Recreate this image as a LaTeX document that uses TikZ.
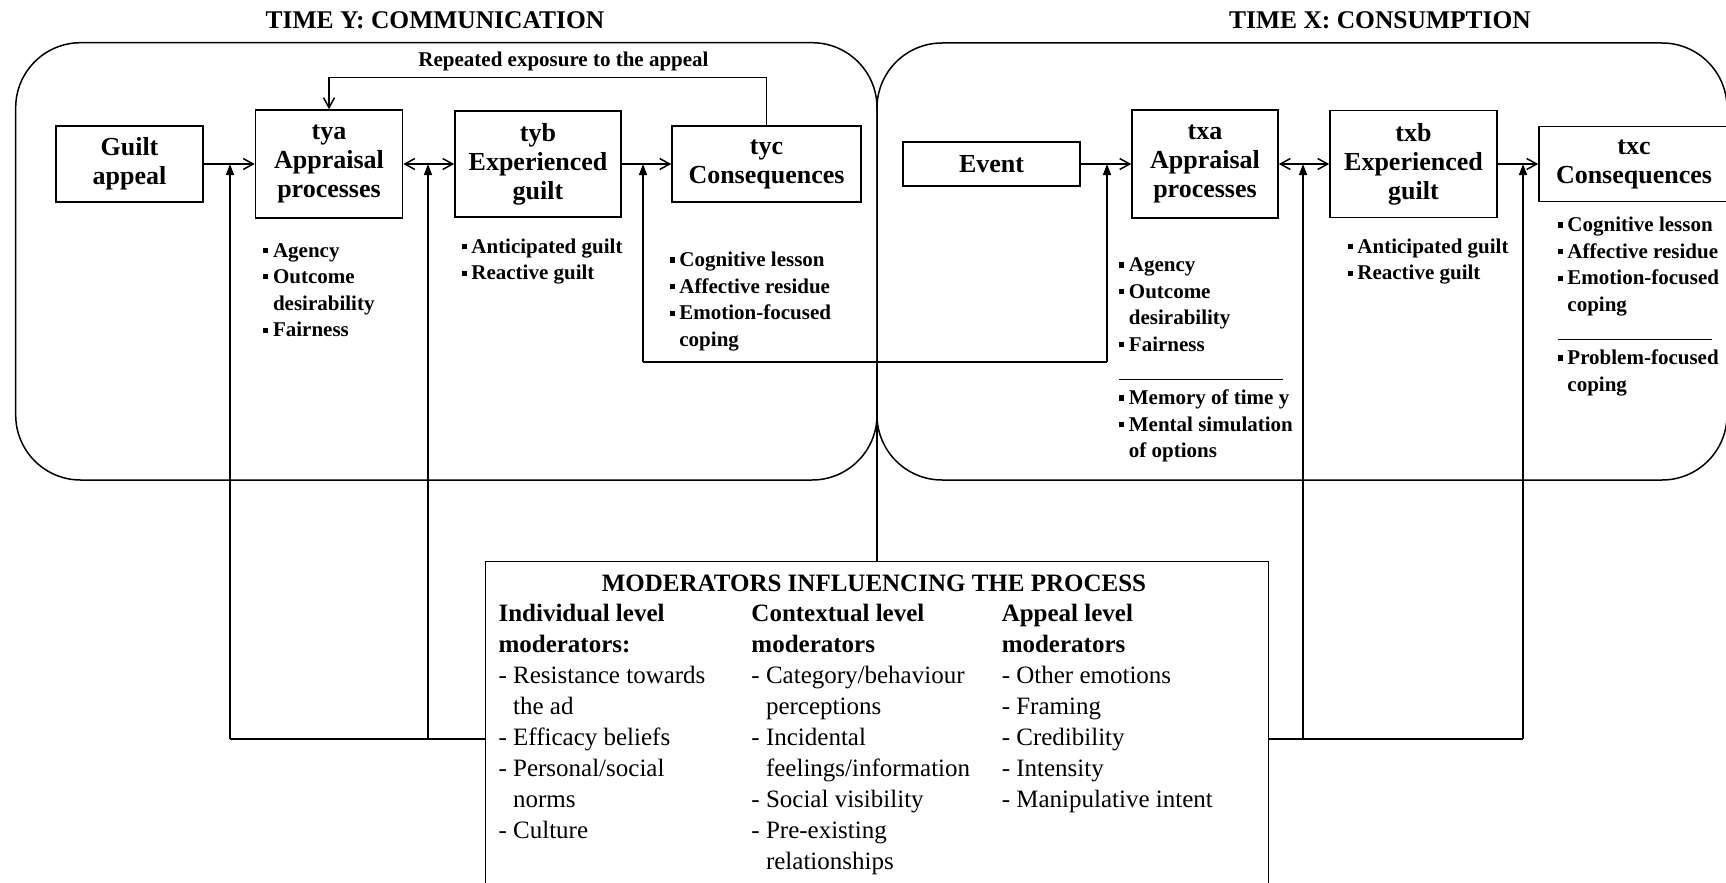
\documentclass[tikz,border=0pt]{standalone}
\usepackage{fontspec}
\setmainfont{Liberation Serif}
\usetikzlibrary{arrows.meta}
% small square bullet used in the lists
\newcommand\sqbul{\rule[0.2em]{0.24em}{0.24em}\hspace{0.22em}}
\newcommand\sqgap{\hphantom{\rule{0.24em}{0.24em}\hspace{0.22em}}}
\newcommand\dsh{-\ }
\newcommand\dgap{\hphantom{-\ }}
\begin{document}
\begin{tikzpicture}[x=1pt,y=-1pt,line width=1.5pt,
  >={Straight Barb[length=10pt,width=11pt]},
  box/.style={draw,line width=1.6pt,inner sep=0pt,align=center,
    font={\fontsize{26}{29}\selectfont\bfseries}},
  stage/.style={draw,line width=1.5pt,rounded corners=65pt},
  flow/.style={->},
  both/.style={<->},
  infl/.style={-{Triangle[length=11pt,width=8pt]}},
  lst/.style={inner sep=0pt,anchor=base west},
  heading/.style={inner sep=0pt,anchor=base,font={\fontsize{25.5}{30}\selectfont\bfseries}},
]
\useasboundingbox (0,0) rectangle (1726,883);

% the two time frames
\draw[stage] (15.7,42.7) rectangle (877,480);
\draw[stage] (877,43) rectangle (1727,480);

\node[heading] (ttly) at (435,28.3) {TIME Y: COMMUNICATION};
\node[heading] (ttlx) at (1380,28.3) {TIME X: CONSUMPTION};

% process boxes, time y
\node[box,minimum width=147pt,minimum height=76pt] (ga) at (129.5,164) {Guilt\\appeal};
\node[box,minimum width=147pt,minimum height=108pt] (tya) at (329,164) {tya\\Appraisal\\processes};
\node[box,minimum width=166pt,minimum height=106pt] (tyb) at (538,164) {tyb\\Experienced\\guilt};
\node[box,minimum width=189pt,minimum height=76pt] (tyc) at (766.5,164) {tyc\\Consequences};

% process boxes, time x
\node[box,minimum width=177pt,minimum height=44pt] (ev) at (991.5,164) {Event};
\node[box,minimum width=146pt,minimum height=108pt] (txa) at (1205,164) {txa\\Appraisal\\processes};
\node[box,minimum width=167pt,minimum height=107pt] (txb) at (1413.5,164) {txb\\Experienced\\guilt};
\node[box,minimum width=190pt,minimum height=75pt] (txc) at (1634,164) {txc\\Consequences};

% main flow
\draw[flow] (ga.east) -- (tya.west);
\draw[both] (tya.east) -- (tyb.west);
\draw[flow] (tyb.east) -- (tyc.west);
\draw[flow] (ev.east) -- (txa.west);
\draw[both] (txa.east) -- (txb.west);
\draw[flow] (txb.east) -- (txc.west);

% feedback loop
\coordinate (fb) at (0,77.3);
\draw[flow] (tyc.north) -- (tyc.north |- fb) -| (tya.north);
\node[inner sep=0pt,anchor=base,font={\fontsize{21}{25}\selectfont\bfseries}] (fbl) at (563.5,66.7) {Repeated exposure to the appeal};

% bullet lists
\node[lst] (lya) at (262.6,257) {\parbox[t]{200pt}{\fontsize{21}{26.6}\selectfont\bfseries
  \sqbul Agency\\ \sqbul Outcome\\ \sqgap desirability\\ \sqbul Fairness}};
\node[lst] (lyb) at (461,253.3) {\parbox[t]{200pt}{\fontsize{21}{26.6}\selectfont\bfseries
  \sqbul Anticipated guilt\\ \sqbul Reactive guilt}};
\node[lst] (lyc) at (669,266.7) {\parbox[t]{200pt}{\fontsize{21}{26.6}\selectfont\bfseries
  \sqbul Cognitive lesson\\ \sqbul Affective residue\\ \sqbul Emotion-focused\\ \sqgap coping}};
\node[lst] (lxa) at (1118.5,271.7) {\parbox[t]{200pt}{\fontsize{21}{26.6}\selectfont\bfseries
  \sqbul Agency\\ \sqbul Outcome\\ \sqgap desirability\\ \sqbul Fairness\\
  \rule[-2pt]{164pt}{1.2pt}\\ \sqbul Memory of time y\\ \sqbul Mental simulation\\ \sqgap of options}};
\node[lst] (lxb) at (1347,253.3) {\parbox[t]{200pt}{\fontsize{21}{26.6}\selectfont\bfseries
  \sqbul Anticipated guilt\\ \sqbul Reactive guilt}};
\node[lst] (lxc) at (1557,231.7) {\parbox[t]{200pt}{\fontsize{21}{26.6}\selectfont\bfseries
  \sqbul Cognitive lesson\\ \sqbul Affective residue\\ \sqbul Emotion-focused\\ \sqgap coping\\
  \rule[-2pt]{154pt}{1.2pt}\\ \sqbul Problem-focused\\ \sqgap coping}};

% moderators
\node[draw,line width=1.6pt,inner sep=0pt,minimum width=783pt,minimum height=345pt,anchor=north] (mod) at (877,560.7) {};
\node[heading,font={\fontsize{25}{30}\selectfont\bfseries}] (modt) at (874,591.7) {MODERATORS INFLUENCING THE PROCESS};
\node[lst] (m1) at (497.8,621.7) {\parbox[t]{250pt}{\fontsize{25}{31}\selectfont
  \textbf{Individual level}\\ \textbf{moderators:}\\ \dsh Resistance towards\\ \dgap the ad\\
  \dsh Efficacy beliefs\\ \dsh Personal/social\\ \dgap norms\\ \dsh Culture}};
\node[lst] (m2) at (750.7,621.7) {\parbox[t]{250pt}{\fontsize{25}{31}\selectfont
  \textbf{Contextual level}\\ \textbf{moderators}\\ \dsh Category/behaviour\\ \dgap perceptions\\
  \dsh Incidental\\ \dgap feelings/information\\ \dsh Social visibility\\ \dsh Pre-existing\\ \dgap relationships}};
\node[lst] (m3) at (1001,621.7) {\parbox[t]{250pt}{\fontsize{25}{31}\selectfont
  \textbf{Appeal level}\\ \textbf{moderators}\\ \dsh Other emotions\\ \dsh Framing\\
  \dsh Credibility\\ \dsh Intensity\\ \dsh Manipulative intent}};

% influence of the moderators
\coordinate (jl) at (230,739);
\coordinate (jl2) at (428,739);
\coordinate (jr) at (1523,739);
\coordinate (jr2) at (1303,739);
\coordinate (jm) at (877,362);
\coordinate (jm1) at (643,362);
\coordinate (jm2) at (1107,362);
\draw (mod.west |- jl) -- (jl);
\draw[infl] (jl) -- (jl |- tya.west);
\draw[infl] (jl2) -- (jl2 |- tyb.west);
\draw (mod.east |- jr) -- (jr);
\draw[infl] (jr) -- (jr |- txc.west);
\draw[infl] (jr2) -- (jr2 |- txb.west);
\draw (mod.north) -- (jm);
\draw (jm1) -- (jm2);
\draw[infl] (jm1) -- (jm1 |- tyc.west);
\draw[infl] (jm2) -- (jm2 |- txa.west);
\end{tikzpicture}
\end{document}
